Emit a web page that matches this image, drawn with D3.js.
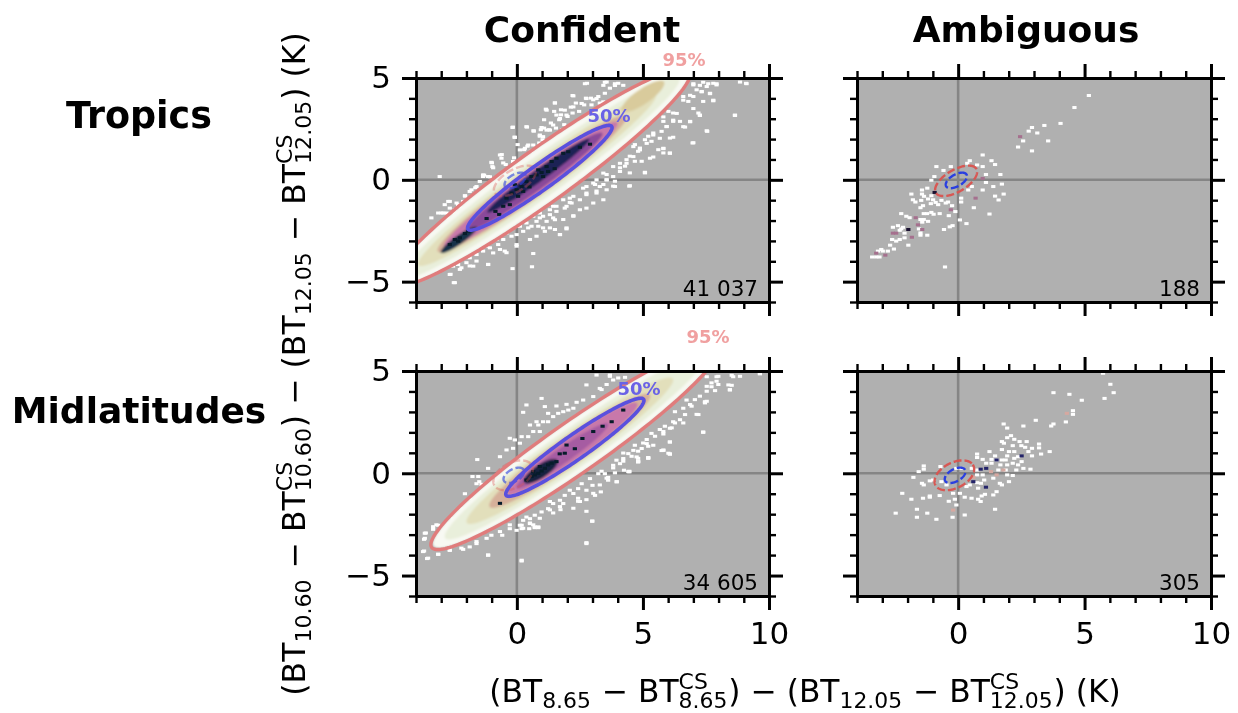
<!DOCTYPE html>
<html><head><meta charset="utf-8">
<script src="https://cdn.jsdelivr.net/npm/d3@7"></script>
<style>
html,body{margin:0;padding:0;background:#fff}
svg{display:block;filter:blur(0.6px)}
text{font-family:"DejaVu Sans";white-space:pre;fill:#000}
</style></head><body>
<svg id="c" width="1238" height="713"></svg>
<script>
const columnTitles=["Confident","Ambiguous"];
const rowTitles=["Tropics","Midlatitudes"];
const counts=["41 037","188","34 605","305"];
const xMajor=[0,5,10];
const xMinor=[-4,-3,-2,-1,1,2,3,4,6,7,8,9];
const yMajor=[-5,0,5];
const yMinor=[-6,-4,-3,-2,-1,1,2,3,4];

// density bands [cx, cy, semi-major, semi-minor, tilt(deg, data units), colour]
const bandsTropics=[
 [0.91,0.1,7.9,1.18,41.8,"#f8f9f3"],
 [0.91,0.1,7.4,0.9,41.8,"#e9efdb"],
 [0.8,0.0,6.3,0.72,41.8,"#e2dfbb"],
 [5.0,4.1,1.1,0.34,41.8,"#d9cb9c"],
 [0.6,-0.2,5.0,0.62,41.8,"#d6b09a"],
 [0.55,-0.25,4.6,0.54,41.8,"#c878aa"],
 [0.7,-0.1,3.6,0.42,41.8,"#8a4a9a"],
 [0.85,0.2,2.7,0.27,41.8,"#1f2454"],
 [-2.3,-2.95,0.95,0.2,41.8,"#14304a"]
];
const bandsMid=[
 [2.3,1.27,7.4,1.12,41,"#f8f9f3"],
 [2.3,1.27,6.8,0.88,41,"#e9efdb"],
 [2.1,1.1,5.4,0.72,41,"#e2dfbb"],
 [2.1,1.1,4.2,0.62,41,"#d6b09a"],
 [2.2,1.2,3.4,0.52,41,"#c878aa"],
 [1.8,0.85,2.4,0.34,41,"#a65ca2"],
 [0.95,0.1,0.85,0.3,41,"#14243f"]
];
// confidence ellipses [cx, cy, semi-major, semi-minor, tilt]
const ellipse95=[[0.91,0.1,7.95,1.22,41.8],null,[2.3,1.27,7.5,1.16,41],null];
const ellipse50=[[0.91,0.1,3.81,0.56,41.8],null,[2.3,1.27,3.6,0.55,41],null];
const ambiguous95=[[-0.08,-0.05,1.0,0.5,40],[-0.08,-0.05,1.0,0.5,40],[-0.15,-0.1,0.9,0.58,40],[-0.15,-0.1,0.9,0.58,40]];
const ambiguous50=[[-0.07,-0.03,0.5,0.27,40],[-0.07,-0.03,0.5,0.27,40],[-0.12,-0.1,0.48,0.28,40],[-0.12,-0.1,0.48,0.28,40]];

const whiteTropicsConfident=[[-3.06,0.16],[-0.67,1.22],[-0.61,1.06],[-1.01,0.86],[-0.97,0.65],[-0.17,2.57],[-0.08,2.08],[0.38,2.61],[0.67,2.39],[0.98,2.57],[1.18,3.42],[1.51,3.78],[1.57,3.18],[1.71,3.01],[1.90,3.42],[2.24,4.12],[2.70,4.72],[3.43,4.64],[3.89,4.72],[3.56,4.80],[4.22,4.64],[2.24,3.58],[2.57,3.75],[2.76,3.99],[3.16,3.99],[3.43,3.83],[1.04,2.12],[1.18,2.44],[1.44,2.69],[0.32,1.55],[0.12,1.47],[0.45,1.71],[-0.15,0.90],[-1.34,0.24],[-1.14,0.16],[-1.47,-0.08],[-1.80,-0.49],[-2.66,-1.06],[-2.33,-1.22],[-3.12,-1.63],[-3.39,-1.87],[-2.92,-1.63],[-2.72,-1.87],[-2.46,-1.63],[-2.20,-1.38],[-1.67,-1.06],[0.65,1.71],[0.91,2.20],[1.31,2.44],[1.97,3.18],
[7.00,4.72],[7.26,4.64],[7.59,4.72],[7.92,4.72],[8.85,4.80],[9.11,4.72],[7.33,4.32],[7.66,4.23],[7.79,3.91],[6.87,4.15],[6.60,3.91],[7.00,3.50],[7.26,3.18],[6.87,2.85],[6.60,2.61],[6.20,2.93],[6.34,3.26],[7.53,2.41],[7.00,1.82],[8.65,3.18],[5.81,3.09],[5.94,2.61],[5.41,2.20],[5.67,2.04],[5.15,1.79],[4.62,1.63],[4.88,1.47],[5.81,1.55],[6.07,1.30],[5.28,1.06],[5.08,0.37],[4.48,-0.29],[4.09,0.41],[3.82,0.16],[3.56,0.00],[3.29,-0.33],[3.56,-0.49],[2.76,-0.73],[2.50,-0.98],[2.10,-1.11],[2.50,-1.47],[2.24,-1.76],[1.84,-1.95],[1.44,-1.87],[1.04,-1.79],[0.78,-2.04],[0.58,-2.28],[1.04,-2.36],[1.97,-2.36],[1.71,-2.69],[0.65,-3.62],[0.60,-4.27],[-0.17,-4.36],[-0.67,-3.42],[-0.41,-3.58],[-0.01,-3.26],[-1.14,-4.15],[-1.60,-3.99],[-1.87,-4.23],[-2.20,-4.32],[-2.50,-5.05],[-2.63,-4.64],[-3.12,-4.48],[-3.58,-4.40],[-3.85,-4.23],[-3.72,-3.91],
[4.62,1.14],[4.35,0.81],[4.09,0.81],[3.82,0.65],[3.43,0.33],[3.03,-0.16],[2.76,-0.33],[2.24,-0.81],[1.97,-1.30],[1.57,-1.30],[1.31,-1.47],[0.91,-1.63],[0.65,-1.79],[0.38,-2.12],[-0.01,-2.28],[-0.41,-2.61],[-0.81,-2.93],[-1.20,-3.26],[-1.47,-3.42],
[2.78,4.74],[2.21,4.14],[1.51,3.77],[1.15,3.47],[1.75,3.44],[1.48,3.36],[1.75,3.19],[2.14,3.57],[2.34,3.77],[2.74,4.01],[2.94,4.01],[2.67,3.68],[2.47,3.36],[2.21,3.28],[2.01,3.11],[1.68,2.95],[1.08,2.95],[1.35,2.79],[1.08,2.54],[1.28,2.46],[1.55,2.54],[1.88,2.71],[1.81,2.46],[0.95,2.46],[0.66,2.41],[0.40,2.59],[-0.16,2.59],[-0.09,2.10],[0.03,1.73],[0.42,1.65],[0.29,1.48],[0.56,1.40],[0.91,2.14],[1.02,1.97],[0.89,1.81],[-0.60,1.24],[-0.99,0.83],[-0.94,0.59],[-0.54,0.83],[-0.44,0.75],[-0.11,1.08],[-1.30,0.23],[-1.07,0.15],[-1.65,-0.39],[-2.05,-0.80],
[2.17,-1.14],[1.90,-1.39],[1.57,-1.55],[1.31,-1.71],[0.91,-1.87],[1.44,-1.30],[1.84,-0.98],[2.10,-0.90],[1.51,-1.96],[1.18,-2.04],[0.85,-2.28],[0.45,-2.36],[0.12,-2.28],[0.38,-1.63],[0.65,-1.47],[-0.01,-2.69],[0.25,-2.53],[-0.21,-2.77],[-0.54,-2.93],[-0.74,-3.18],[-1.07,-3.34],[-0.94,-3.59],[-1.34,-3.50],[-1.60,-3.67],[-1.87,-3.83],[-2.00,-4.07],[-2.33,-4.16],[-2.53,-4.24],[-2.26,-4.40],[-1.73,-4.24],[-1.14,-4.16],[-0.48,-3.50],[-0.01,-3.18],[0.52,-2.93],[0.78,-2.77],[1.71,-2.69],[1.97,-2.41],[1.31,-2.36],[1.11,-2.53],[2.24,-1.79],[1.51,-2.44],[2.76,-1.39],[3.03,-1.14],[3.43,-0.98],[2.76,-0.65],[2.63,-0.41],[3.16,-0.65],[3.89,-0.33],[3.56,0.00],[3.16,0.00],[-2.46,-5.05],[-2.66,-4.65],[-2.86,-1.22],[-2.72,-1.06],[-2.39,-1.14],[-2.13,-1.06],[-2.46,-1.47],[-2.79,-1.63],[-2.66,-1.39],[-2.99,-1.63],[-2.06,-0.78],[-1.60,-0.33],[-1.87,-0.57],[-1.34,0.16],
[9.09,4.74],[7.79,4.74],[7.92,4.66],[7.39,4.79],[7.53,4.58],[7.00,4.66],[7.13,4.42],[7.33,4.34],[7.66,4.25],[7.79,3.88],[7.39,3.85],[7.00,4.09],[6.80,3.85],[6.60,4.09],[7.20,3.28],[7.26,3.16],[6.87,2.87],[6.67,2.59],[6.47,2.87],[6.20,3.28],[6.01,3.36],[6.20,2.87],[5.94,2.62],[5.81,2.87],[5.74,2.38],[6.07,2.05],[6.20,2.09],[5.41,2.30],[5.21,2.14],[5.08,1.97],[5.34,1.89],[5.61,1.48],[5.81,1.53],[6.07,1.32],[5.81,1.32],[5.41,1.12],[4.88,1.56],[4.68,1.73],[4.81,1.40],[4.95,0.91],[4.68,0.91],[4.48,1.16],[4.35,0.99],[4.29,0.67],[4.09,0.59],[4.48,0.34],[5.08,0.34],[3.56,0.26],[3.89,-0.07],[3.43,-0.23],[3.10,-0.23],[4.46,-0.31],[3.16,-0.55],[8.65,3.16],[7.55,2.38],[6.97,1.81],[3.82,-0.31],[3.89,4.63],[3.49,4.79],[3.69,4.50],[4.02,4.74],[3.49,4.25],[3.23,4.09],[3.03,3.93],[3.29,3.77],[2.96,3.68]];
const darkTropicsConfident=[[-2.66,-3.18],[-2.46,-2.93],[-2.26,-2.85],[-2.06,-2.64],[-1.93,-2.52],[-2.33,-3.01],[-0.41,-0.90],[-0.21,-0.65],[-0.01,-0.49],[0.19,-0.33],[-0.08,-0.24],[0.38,-0.08],[0.58,0.16],[0.78,0.24],[0.98,0.36],[0.85,0.49],[1.18,0.65],[1.38,0.90],[1.57,1.06],[1.24,0.41],[1.04,0.16],[1.84,1.30],[2.04,1.38],[0.25,-0.57],[0.05,-0.81],[-0.28,-1.22],[-0.54,-1.30],[-0.85,-1.55],[-0.7,-1.7],[0.5,-0.35],[1.5,0.55],[-1.2,-1.9],[2.5,1.6],[2.9,1.75]];

const whiteMidConfident=[[-1.57,0.67],[-1.76,-0.16],[-1.53,-0.16],[-1.49,-0.41],[-0.28,1.71],[-0.08,1.63],[0.38,3.34],[0.25,2.98],[0.98,3.66],[1.11,3.26],[1.57,3.29],[1.97,3.37],[2.37,3.47],[2.76,4.32],[3.16,4.80],[3.69,4.80],[3.03,3.75],[1.04,2.52],[0.85,2.36],[1.24,2.93],[0.19,1.79],[0.65,2.04],[-0.41,1.14],[-0.67,0.81],[-1.14,0.24],[9.64,4.89],[8.58,4.72],[8.39,4.32],[8.45,4.07],[7.92,4.72],[7.53,4.72],[7.72,4.23],[7.46,3.50],[7.13,2.88],[7.39,2.02],[6.73,3.58],[6.60,3.18],[6.27,3.01],[6.20,2.52],[6.07,2.20],[5.81,2.04],[5.34,1.95],[6.01,0.98],[5.81,1.14],[4.81,0.73],[4.81,0.57],[5.21,0.73],[4.42,0.08],[3.96,-0.41],[3.56,-0.24],[3.29,-0.57],[3.03,-0.98],[2.50,-1.38],[2.24,-1.71],[2.43,-1.22],[2.99,-2.33],[2.76,-3.39],[0.19,-4.25],[-1.14,-3.99],[-3.12,-3.96],[-3.52,-4.15],[-3.72,-3.83],[-3.65,-3.18],[-3.65,-2.93],[-3.32,-2.61],[-3.19,-2.52],[-1.60,-3.34],[-2.20,-3.66],[-2.66,-3.75],[0.65,-2.52],[0.25,-2.69],[0.91,-2.20],[1.31,-1.79],[1.71,-1.63],[1.31,-1.38],[-0.67,-2.85],[-0.28,-2.52],[-1.20,-3.18],
[6.07,1.53],[5.41,1.37],[5.81,1.12],[6.07,0.93],[5.21,0.77],[4.81,0.55],[4.75,0.80],[4.62,1.12],[4.95,1.21],[5.15,1.45],[4.68,1.37],[4.42,0.96],[4.22,0.72],[4.09,0.47],[3.82,0.39],[3.95,0.64],[4.46,0.07],[4.25,0.15],[3.96,-0.42],[3.62,-0.34],[3.49,-0.02],[3.33,-0.91],[3.00,-0.59],[3.10,-1.08],[2.76,-1.29],[2.43,-1.37],[2.76,-0.83],[2.43,-0.75],[2.24,-0.99],[2.10,-0.83],[1.90,-1.08],[1.71,-1.32],[1.84,-1.48],[1.44,-1.48],[1.73,-1.78],[1.44,-1.94],[1.24,-1.73],[0.98,-1.89],[0.71,-2.05],[0.52,-2.22],[0.38,-2.14],[0.25,-2.30],[0.19,-2.54],[0.19,-2.71],[0.52,-2.43],[0.71,-2.66],[0.85,-2.66],[0.49,-2.71],[2.76,-1.86],[2.99,-2.35],[2.76,-3.44],[2.57,-0.51],[2.90,-0.26],[3.23,-0.02],
[7.99,4.74],[8.52,4.79],[8.85,4.74],[9.64,4.86],[7.92,4.50],[7.72,4.42],[7.53,4.25],[7.99,4.34],[8.52,4.30],[8.45,4.09],[7.86,4.04],[7.53,4.01],[7.26,3.77],[7.06,3.60],[7.53,3.52],[7.46,3.44],[7.20,2.87],[7.39,2.00],[6.87,3.36],[6.93,3.28],[6.67,2.87],[6.47,2.62],[6.60,2.46],[6.27,2.46],[6.14,2.22],[5.87,2.30],[5.67,2.14],[5.81,1.92],[6.07,1.53],[5.74,1.11],[6.07,0.95],[5.21,0.75],[5.48,1.81],[5.15,1.65],[5.21,1.32],[5.01,1.48],[4.81,1.08],[4.81,0.59],[4.55,0.83],[4.22,0.99],[4.22,0.59],[3.82,0.26],[3.69,4.74],[4.02,4.66],[4.29,4.69],[3.56,4.34],[3.36,4.09],[4.46,0.10],[3.89,0.02],[3.62,-0.20],[3.36,0.10],
[-2.06,-1.00],[-1.60,-0.51],[-1.40,-0.54],[-1.87,-1.24],[-2.20,-1.73],[-2.53,-2.22],[-2.66,-2.46],[-3.12,-2.54],[-3.32,-2.74],[-3.61,-2.92],[-3.68,-3.23],[-3.68,-3.80],[-3.56,-4.17],[-3.12,-3.96],[-2.66,-3.77],[-2.13,-3.72],[-1.87,-3.60],[-1.60,-3.44],[-1.14,-4.01],[0.19,-4.29],[-1.01,-3.03],[-0.58,-3.03],[-0.28,-2.71],[0.12,-2.54],[0.52,-2.46],[-0.01,-2.79],[0.71,-2.62],[0.85,-2.62],
[0.52,2.36],[0.91,2.04],[0.12,1.47],[-0.15,1.22],[1.44,2.77],[1.84,3.01],[2.24,3.18],[2.63,3.58],[3.29,4.15],[3.82,4.56],[0.45,1.79],[0.78,2.52],[1.24,2.52],[1.64,2.93],[2.04,3.09]];
const darkMidConfident=[[0.58,-0.16],[0.71,-0.08],[0.85,0],[0.98,0.11],[1.11,0.24],[1.24,0.41],[0.91,0.33],[0.65,0.08],[1.38,0.49],[1.57,0.57],[0.38,-0.33],[1.90,0.98],[1.97,1.38],[3.03,2.04],[3.76,2.52],[4.22,3.09],[-0.67,-1.47],[2.3,1.2],[2.6,1.7],[3.4,2.3],[1.7,0.95]];

const whiteTropicsAmbiguous=[[5.17,4.14],[4.60,3.55],[4.05,2.77],[3.41,2.67],[2.92,2.57],[2.79,2.39],[3.13,2.30],[2.57,1.91],[3.56,1.91],[2.37,1.61],[2.92,1.42],[0.97,1.22],[1.32,0.94],[1.46,0.75],[0.97,0.65],[0.46,0.94],[0.36,0.81],[0.75,0.73],[-0.86,0.65],[-0.29,0.65],[-0.58,0.46],[1.10,0.26],[1.67,0.26],[-0.94,0.16],[-1.06,-0.02],[1.10,-0.13],[1.73,-0.21],[1.39,-0.33],[0.54,-0.33],[0.97,-0.50],[0.40,-0.50],[1.80,-0.70],[1.46,-0.80],[1.60,-0.99],[0.12,-0.90],[0.12,-1.09],[0.62,-1.37],[1.24,-1.68],[0.07,-1.97],[0.33,-2.15],[-0.24,-1.27],[-0.11,-1.56],[-0.37,-1.76],[-0.22,-2.25],[-0.33,-2.31],[-0.56,-2.44],[-0.52,-4.28],[-1.85,-0.70],[-1.43,-0.50],[-1.22,-0.41],[-1.43,-0.70],[-1.35,-0.81],[-1.06,-0.78],[-1.19,-0.94],[-0.99,-0.98],[-0.89,-1.11],[-0.79,-1.22],[-1.79,-0.98],[-1.69,-1.09],[-1.46,-1.01],[-1.08,-1.17],[-0.49,-1.14],[-0.40,-1.09],[-0.66,-1.01],[-1.39,-1.27],[-1.49,-1.37],[-0.73,-1.66],[-1.06,-1.60],[-0.97,-1.69],[-1.36,-1.66],[-1.23,-1.66],[-2.25,-1.66],[-2.05,-1.79],[-1.92,-1.86],[-1.49,-1.95],[-1.36,-1.95],[-1.19,-2.04],[-1.42,-2.08],[-2.58,-2.33],[-2.38,-2.25],[-2.18,-2.33],[-2.31,-2.48],[-2.25,-2.41],[-1.55,-2.41],[-1.49,-2.61],[-1.22,-2.72],[-2.12,-2.62],[-2.31,-2.93],[-2.45,-3.01],[-2.61,-2.93],[-2.12,-2.85],[-1.49,-2.72],[-1.97,-3.21],[-2.69,-3.21],[-2.54,-3.40],[-3.04,-3.42],[-3.17,-3.50],[-2.98,-3.50],[-2.78,-3.50],[-3.40,-3.79],[-3.24,-3.79],[-3.11,-3.79]];
const pinkTropicsAmbiguous=[[2.45,2.12],[0.97,0.07],[0.69,-0.90],[-0.29,-1.47],[-1.68,-1.86],[-1.59,-2.21],[-1.42,-2.44],[-2.58,-2.62],[-2.45,-2.62],[-1.83,-2.82],[-3.24,-3.60],[-2.88,-3.70]];
const darkTropicsAmbiguous=[[-0.93,-0.62],[-1.97,-2.44]];

const whiteMidAmbiguous=[[5.73,4.89],[6.02,4.35],[6.15,3.94],[5.79,3.66],[3.77,3.94],[4.40,3.86],[4.89,3.57],[4.54,3.06],[4.54,2.88],[4.26,2.51],[3.07,2.59],[3.77,2.41],[3.68,2.31],[1.80,2.41],[1.94,2.21],[2.58,2.31],[2.09,1.84],[1.94,1.74],[1.73,1.55],[1.81,1.47],[2.22,1.66],[2.43,1.55],[2.71,1.55],[3.20,1.43],[2.50,1.35],[2.65,1.27],[2.16,1.35],[2.92,1.22],[3.20,1.24],[1.73,1.16],[2.01,1.06],[2.78,1.06],[2.22,1.06],[3.62,1.06],[3.28,0.94],[2.92,0.85],[1.24,1.06],[0.75,0.94],[0.75,0.77],[1.46,0.85],[1.32,0.68],[1.94,0.85],[2.22,0.73],[2.37,0.81],[2.51,0.57],[2.16,0.49],[1.88,0.65],[1.73,0.65],[1.52,0.65],[0.97,0.68],[1.11,0.49],[1.32,0.49],[1.67,0.41],[1.94,0.41],[2.37,0.41],[2.58,0.24],[2.86,0.20],[2.30,0.16],[1.88,0.16],[1.59,0.16],[0.54,0.24],[0.75,0.16],[-1.36,0.36],[-1.36,0.20],[-1.56,0.08],[-1.77,-0.20],[-0.70,0.33],[-0.07,0.24],[0.13,0.24],[0.75,-0.08],[0.97,-0.08],[2.16,-0.11],[1.94,-0.08],[1.39,-0.24],[1.03,-0.33],[0.75,-0.46],[0.90,-0.49],[0.46,-0.57],[0.33,-0.65],[2.01,-0.41],[1.73,-0.57],[1.65,-0.49],[-1.12,-0.37],[-0.99,-0.33],[-1.43,-0.49],[-1.36,-0.57],[-0.66,-0.41],[-0.46,-0.57],[0.79,-0.73],[1.52,-0.90],[1.39,-1.06],[1.06,-1.03],[0.93,-1.11],[0.26,-1.17],[0.53,-1.22],[0.79,-1.27],[0.89,-1.38],[-2.21,-0.98],[-1.85,-1.27],[-1.39,-1.22],[-1.12,-1.11],[-1.12,-1.17],[-0.73,-1.09],[-0.20,-0.98],[0.07,-0.98],[-0.37,-1.37],[-0.13,-1.27],[-0.07,-1.55],[-1.63,-1.76],[1.46,-1.76],[-2.47,-1.95],[-1.22,-1.95],[-1.63,-2.15],[-0.86,-2.25],[-0.22,-2.15],[0.26,-2.04]];
const pinkMidAmbiguous=[[4.30,2.93],[1.79,0.16],[1.52,-0.08],[1.3,0.08],[-0.2,-1.8],[0.6,-0.2]];
const darkMidAmbiguous=[[0.89,0.20],[2.51,0.85],[1.52,0.65],[1.11,0.24],[0.60,-0.41],[1.10,-0.68]];

const xDomain=[-4,10], yDomain=[-6,5];
const colX=[[416,769],[857,1211]], rowY=[[78,302],[371,596]];
const svg=d3.select("#c");
const defs=svg.append("defs");
defs.append("filter").attr("id","soft").attr("x","-10%").attr("y","-10%").attr("width","120%").attr("height","120%")
  .append("feGaussianBlur").attr("stdDeviation",1.2);

function ellipsePath(x,y,e){
  const [cx,cy,a,b,deg]=e, th=deg*Math.PI/180;
  return d3.line().x(t=>x(cx+a*Math.cos(t)*Math.cos(th)-b*Math.sin(t)*Math.sin(th)))
    .y(t=>y(cy+a*Math.cos(t)*Math.sin(th)+b*Math.sin(t)*Math.cos(th)))
    .curve(d3.curveLinearClosed)(d3.range(0,2*Math.PI,Math.PI/90));
}
const panels=[
 {r:0,c:0,bands:bandsTropics,cells:[[whiteTropicsConfident,"#fff"],[darkTropicsConfident,"#071c2a"]]},
 {r:0,c:1,bands:[],cells:[[whiteTropicsAmbiguous,"#fff"],[pinkTropicsAmbiguous,"#a5708e"],[darkTropicsAmbiguous,"#1a1030"]]},
 {r:1,c:0,bands:bandsMid,cells:[[whiteMidConfident,"#fff"],[darkMidConfident,"#071c2a"]]},
 {r:1,c:1,bands:[],cells:[[whiteMidAmbiguous,"#fff"],[pinkMidAmbiguous,"#d6a8a0"],[darkMidAmbiguous,"#24246a"]]}
];
panels.forEach((p,i)=>{
  const x=d3.scaleLinear().domain(xDomain).range(colX[p.c]);
  const y=d3.scaleLinear().domain(yDomain).range([rowY[p.r][1],rowY[p.r][0]]);
  const g=svg.append("g");
  const id="clip"+i;
  const [L,R]=colX[p.c],[T,B]=rowY[p.r];
  defs.append("clipPath").attr("id",id).append("rect").attr("x",L).attr("y",T).attr("width",R-L).attr("height",B-T);
  g.append("rect").attr("x",L).attr("y",T).attr("width",R-L).attr("height",B-T).attr("fill","#b0b0b0");
  const body=g.append("g").attr("clip-path",`url(#${id})`);
  body.append("line").attr("x1",x(0)).attr("x2",x(0)).attr("y1",T).attr("y2",B).attr("stroke","#858585").attr("stroke-width",2.6);
  body.append("line").attr("x1",L).attr("x2",R).attr("y1",y(0)).attr("y2",y(0)).attr("stroke","#858585").attr("stroke-width",2.6);
  const cw=4.2,ch=3;
  body.append("g").selectAll("rect").data(p.cells[0][0]).join("rect")
    .attr("x",d=>x(d[0])-cw/2).attr("y",d=>y(d[1])-ch/2).attr("width",cw).attr("height",ch).attr("fill",p.cells[0][1]);
  body.append("g").attr("filter","url(#soft)").selectAll("path").data(p.bands).join("path")
    .attr("d",d=>ellipsePath(x,y,d)).attr("fill",d=>d[5]);
  p.cells.slice(1).forEach(([pts,col])=>{
    body.append("g").selectAll("rect").data(pts).join("rect")
      .attr("x",d=>x(d[0])-cw/2).attr("y",d=>y(d[1])-ch/2).attr("width",cw).attr("height",ch).attr("fill",col);
  });
  body.append("path").attr("d",ellipsePath(x,y,ambiguous95[i])).attr("fill","none").attr("stroke","#d9534f")
    .attr("stroke-width",2.4).attr("stroke-dasharray","8 3").attr("opacity",p.c?0.95:0.35);
  body.append("path").attr("d",ellipsePath(x,y,ambiguous50[i])).attr("fill","none").attr("stroke","#2a3fe0")
    .attr("stroke-width",2.4).attr("stroke-dasharray","8 3").attr("opacity",p.c?1:0.6);
  if(ellipse95[i]) body.append("path").attr("d",ellipsePath(x,y,ellipse95[i])).attr("fill","none").attr("stroke","#e07c7c").attr("stroke-width",3.4);
  if(ellipse50[i]) body.append("path").attr("d",ellipsePath(x,y,ellipse50[i])).attr("fill","none").attr("stroke","#5a50de").attr("stroke-width",3.6);

  const mk=(gen,horizontal,tr,major,labels)=>{
    const a=g.append("g").attr("transform",tr);
    a.call(gen(horizontal?x:y)
      .tickValues(major?(horizontal?xMajor:yMajor):(horizontal?xMinor:yMinor))
      .tickSize(major?14:7).tickSizeOuter(0).tickPadding(horizontal?12:11)
      .tickFormat(labels?(d=>String(d).replace("-","\u2212")):""));
    a.selectAll("path").attr("stroke","#000").attr("stroke-width",3);
    a.selectAll("line").attr("stroke","#000").attr("stroke-width",major?3:2.4);
    a.selectAll("text").attr("font-size",31).attr("font-family","DejaVu Sans").attr("fill","#000");
  };
  [true,false].forEach(mj=>{
    mk(d3.axisTop,true,`translate(0,${T})`,mj,false);
    mk(d3.axisBottom,true,`translate(0,${B})`,mj,mj&&p.r===1);
    mk(d3.axisLeft,false,`translate(${L},0)`,mj,mj&&p.c===0);
    mk(d3.axisRight,false,`translate(${R},0)`,mj,false);
  });
  g.append("text").attr("x",R-11).attr("y",B-6).attr("text-anchor","end").attr("font-size",21.5).text(counts[i]);
});

const lab=(x,y,s,size,weight,col)=>svg.append("text").attr("x",x).attr("y",y).attr("text-anchor","middle")
  .attr("font-size",size).attr("font-weight",weight).style("fill",col||"#000").text(s);
lab(582,42,columnTitles[0],36,"bold"); lab(1026,42,columnTitles[1],36,"bold");
lab(139,128,rowTitles[0],36.5,"bold"); lab(139,423,rowTitles[1],36,"bold");
lab(684,66,"95%",18,"bold","#f0a0a0"); lab(609,122,"50%",18,"bold","#6a62e6");
lab(708,343,"95%",18,"bold","#f0a0a0"); lab(639,395,"50%",18,"bold","#6a62e6");

function mathLabel(cx,cy,rot,parts,size){
  const outer=svg.append("g").attr("transform",`translate(${cx},${cy}) rotate(${rot})`);
  const g=outer.append("g");
  let cur=0;
  const put=(s,fs,dy,at)=>{const t=g.append("text").attr("x",at).attr("y",dy).attr("font-size",fs).text(s);return t.node().getComputedTextLength();};
  parts.forEach(p=>{
    if(typeof p==="string"){cur+=put(p,size,0,cur);}
    else{
      const w1=put(p.sub,size*0.7,size*0.19,cur);
      const w2=p.sup?put(p.sup,size*0.7,-size*0.42,cur):0;
      cur+=Math.max(w1,w2)+size*0.03;
    }
  });
  g.attr("transform",`translate(${-cur/2},0)`);
}
const xLabelParts=["(BT",{sub:"8.65"}," \u2212 BT",{sub:"8.65",sup:"CS"},") \u2212 (BT",{sub:"12.05"}," \u2212 BT",{sub:"12.05",sup:"CS"},") (K)"];
const yLabelParts=["(BT",{sub:"10.60"}," \u2212 BT",{sub:"10.60",sup:"CS"},") \u2212 (BT",{sub:"12.05"}," \u2212 BT",{sub:"12.05",sup:"CS"},") (K)"];
mathLabel(805,702,0,xLabelParts,31.3);
mathLabel(305,364,-90,yLabelParts,31.5);
</script></body></html>
